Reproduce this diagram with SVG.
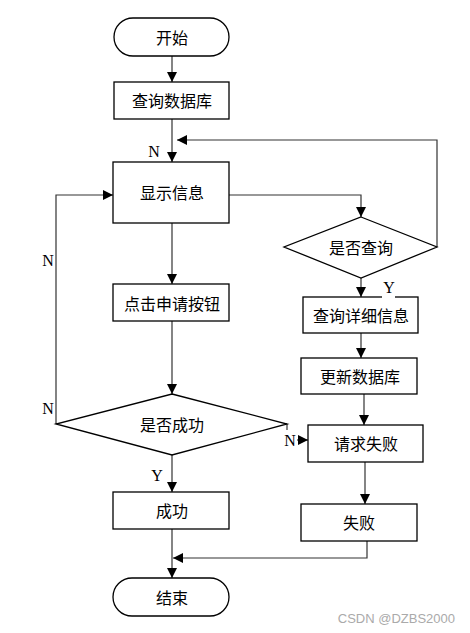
<svg xmlns="http://www.w3.org/2000/svg" width="470" height="633" viewBox="0 0 470 633">
<defs>
<style>
.box{fill:#fff;stroke:#000;stroke-width:1.3}
.t{font-family:"Noto Sans CJK SC","Noto Sans",sans-serif;font-size:16px;fill:#000;text-anchor:middle;dominant-baseline:central}
.l{font-family:"Liberation Serif",serif;font-size:16px;fill:#000;text-anchor:middle;dominant-baseline:central}
.c{fill:none;stroke:#333;stroke-width:1.2;marker-end:url(#ah)}
.cn{fill:none;stroke:#333;stroke-width:1.2}
</style>
<marker id="ah" viewBox="0 0 10 10" refX="10" refY="5" markerWidth="10" markerHeight="10" markerUnits="userSpaceOnUse" orient="auto">
<path d="M0,0 L10,5 L0,10 z" fill="#000"/>
</marker>
</defs>
<rect width="470" height="633" fill="#fff"/>
<g id="connectors">
<path class="c" d="M172,56 V82"/>
<path class="c" d="M172,119 V162"/>
<path class="c" d="M437,247 V140 H177"/>
<path class="c" d="M229,195 H361 V217"/>
<path class="c" d="M56,424 V195 H113"/>
<path class="c" d="M172,223 V284"/>
<path class="c" d="M172,321 V394"/>
<path class="c" d="M361,278 V297"/>
<path class="c" d="M361,333 V358"/>
<path class="c" d="M364,394 V425"/>
<path class="cn" d="M287,424 V430"/>
<path class="c" d="M297,440 H308"/>
<path class="c" d="M172,455 V492"/>
<path class="c" d="M365,462 V504"/>
<path class="c" d="M172,529 V578"/>
<path class="c" d="M367,541 V558 H173"/>
</g>
<g id="start"><rect class="box" x="114" y="18" width="115" height="38" rx="19"/><text class="t" x="172" y="37">开始</text></g>
<g id="querydb"><rect class="box" x="114" y="82" width="115" height="37"/><text class="t" x="172" y="100">查询数据库</text></g>
<g id="show"><rect class="box" x="113" y="162" width="116" height="61"/><text class="t" x="172" y="192">显示信息</text></g>
<g id="isquery"><polygon class="box" points="361,217 437,247 361,278 284,247"/><text class="t" x="361" y="247">是否查询</text></g>
<g id="click"><rect class="box" x="113" y="284" width="116" height="37"/><text class="t" x="172" y="303">点击申请按钮</text></g>
<g id="success-q"><polygon class="box" points="172,394 287,424 172,455 56,424"/><text class="t" x="172" y="424">是否成功</text></g>
<g id="detail"><rect class="box" x="303" y="297" width="115" height="36"/><text class="t" x="361" y="315">查询详细信息</text></g>
<g id="update"><rect class="box" x="301" y="358" width="116" height="36"/><text class="t" x="360" y="376">更新数据库</text></g>
<g id="reqfail"><rect class="box" x="308" y="425" width="115" height="37"/><text class="t" x="366" y="443">请求失败</text></g>
<g id="ok"><rect class="box" x="113" y="492" width="116" height="37"/><text class="t" x="172" y="510">成功</text></g>
<g id="fail"><rect class="box" x="301" y="504" width="116" height="37"/><text class="t" x="359" y="522">失败</text></g>
<g id="end"><rect class="box" x="113" y="578" width="116" height="38" rx="19"/><text class="t" x="172" y="597">结束</text></g>
<g id="labels">
<text class="l" x="154" y="151">N</text>
<text class="l" x="48" y="260">N</text>
<text class="l" x="48" y="408">N</text>
<rect x="382" y="279" width="13" height="19" fill="#fff"/>
<text class="l" x="389" y="287">Y</text>
<text class="l" x="290" y="440">N</text>
<text class="l" x="157" y="475">Y</text>
</g>
<text x="455" y="623" font-family="Liberation Sans,sans-serif" font-size="13" fill="#aaa" text-anchor="end">CSDN @DZBS2000</text>
</svg>
